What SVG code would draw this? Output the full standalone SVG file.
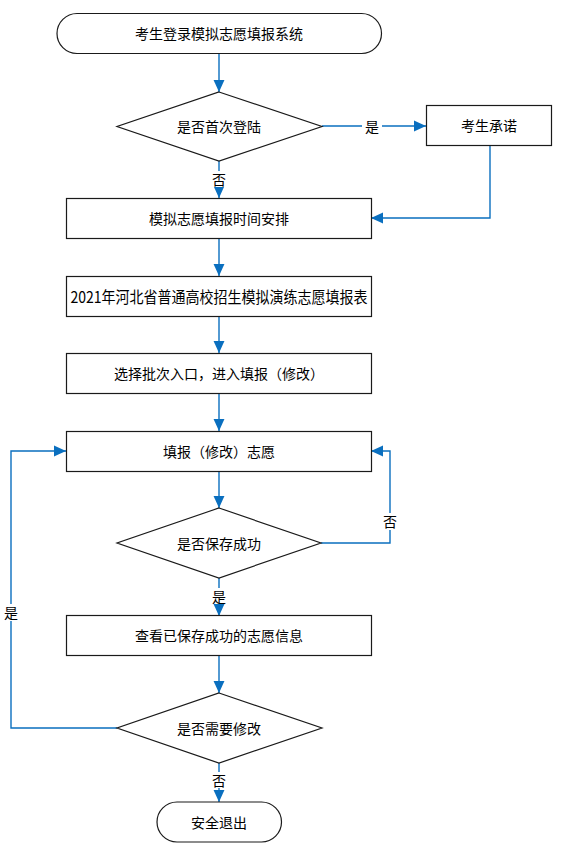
<svg xmlns="http://www.w3.org/2000/svg" width="563" height="854" viewBox="0 0 563 854">
<style>
.s{fill:#fff;stroke:#1a1a1a;stroke-width:1.2}
.t{font-family:"Noto Sans CJK SC","Liberation Sans",sans-serif;font-size:14px;fill:#000;text-anchor:middle;dominant-baseline:central}
.c{fill:none;stroke:#0a6fbf;stroke-width:1.4}
.lb{fill:#fff}
</style>
<defs>
<marker id="a" markerUnits="userSpaceOnUse" markerWidth="12" markerHeight="12" viewBox="0 0 11 10" refX="11" refY="5" orient="auto">
<path d="M0,0 L11,5 L0,10 Z" fill="#0a6fbf"/>
</marker>
</defs>
<rect width="563" height="854" fill="#fff"/>
<g id="connectors">
<path class="c" d="M219,53 V92" marker-end="url(#a)"/>
<path class="c" d="M322,126 H426" marker-end="url(#a)"/>
<path class="c" d="M219,161 V198" marker-end="url(#a)"/>
<path class="c" d="M490,145 V218 H371" marker-end="url(#a)"/>
<path class="c" d="M219,238 V276" marker-end="url(#a)"/>
<path class="c" d="M219,316 V353" marker-end="url(#a)"/>
<path class="c" d="M219,393 V431" marker-end="url(#a)"/>
<path class="c" d="M219,471 V508" marker-end="url(#a)"/>
<path class="c" d="M321,543 H390 V451 H371" marker-end="url(#a)"/>
<path class="c" d="M219,578 V616" marker-end="url(#a)"/>
<path class="c" d="M219,655 V693" marker-end="url(#a)"/>
<path class="c" d="M117,728 H11 V451 H66" marker-end="url(#a)"/>
<path class="c" d="M219,763 V802" marker-end="url(#a)"/>
<rect class="lb" x="362" y="118" width="20" height="16"/>
<text class="t" x="372" y="126">是</text>
<rect class="lb" x="209" y="171" width="20" height="16"/>
<text class="t" x="219" y="179">否</text>
<rect class="lb" x="380" y="513" width="20" height="17"/>
<text class="t" x="390" y="521">否</text>
<rect class="lb" x="209" y="588" width="20" height="16"/>
<text class="t" x="219" y="596">是</text>
<rect class="lb" x="1" y="604" width="20" height="17"/>
<text class="t" x="11" y="612">是</text>
<rect class="lb" x="209" y="772" width="20" height="16"/>
<text class="t" x="219" y="780">否</text>
</g>
<g id="start">
<rect class="s" x="57" y="13.5" width="324.5" height="40" rx="20"/>
<text class="t" x="219" y="33">考生登录模拟志愿填报系统</text>
</g>
<g id="d1">
<polygon class="s" points="219,92 322,126.5 219,161 117,126.5"/>
<text class="t" x="219" y="126">是否首次登陆</text>
</g>
<g id="promise">
<rect class="s" x="426.5" y="105.5" width="125" height="40"/>
<text class="t" x="489" y="125">考生承诺</text>
</g>
<g id="schedule">
<rect class="s" x="66.5" y="198.5" width="305" height="40"/>
<text class="t" x="219" y="218">模拟志愿填报时间安排</text>
</g>
<g id="form">
<rect class="s" x="66.5" y="276.5" width="305" height="40"/>
<text class="t" x="219" y="296" style="font-size:15.5px" textLength="297" lengthAdjust="spacingAndGlyphs">2021年河北省普通高校招生模拟演练志愿填报表</text>
</g>
<g id="select">
<rect class="s" x="66.5" y="353.5" width="305" height="40"/>
<text class="t" x="219" y="373">选择批次入口，进入填报（修改）</text>
</g>
<g id="fill">
<rect class="s" x="66.5" y="431.5" width="305" height="40"/>
<text class="t" x="219" y="451">填报（修改）志愿</text>
</g>
<g id="d2">
<polygon class="s" points="219,508 321,543 219,578 117,543"/>
<text class="t" x="219" y="543">是否保存成功</text>
</g>
<g id="view">
<rect class="s" x="66.5" y="615.5" width="305" height="40"/>
<text class="t" x="219" y="635">查看已保存成功的志愿信息</text>
</g>
<g id="d3">
<polygon class="s" points="219,693 322,728 219,763 117,728"/>
<text class="t" x="219" y="728">是否需要修改</text>
</g>
<g id="end">
<rect class="s" x="157" y="802" width="124.5" height="40" rx="20"/>
<text class="t" x="219" y="822">安全退出</text>
</g>
</svg>
